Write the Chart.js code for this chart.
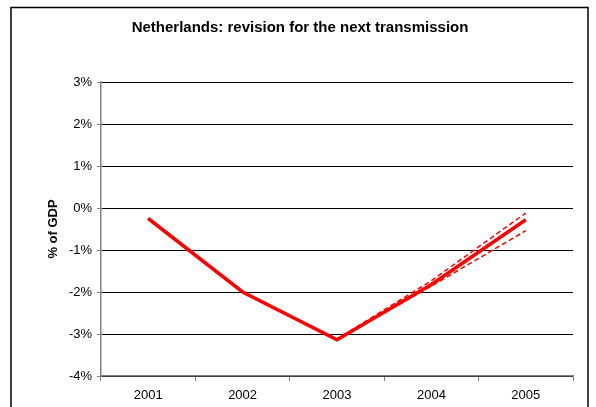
<!DOCTYPE html>
<html>
<head>
<meta charset="utf-8">
<script src="https://cdn.jsdelivr.net/npm/chart.js@4"></script>
<style>
html,body{margin:0;padding:0;background:#fff;}
#wrap{width:596px;height:407px;position:relative;}
</style>
</head>
<body>
<div id="wrap"><canvas id="c" width="596" height="407"></canvas></div>
<script>
const chartTitle = "Netherlands: revision for the next transmission";
const yAxisTitle = "% of GDP";
const categories = ["2001", "2002", "2003", "2004", "2005"];
const mainSeries = [-0.25, -2.0, -3.14, -1.82, -0.28];
const upperSeries = [-0.25, -2.0, -3.12, -1.73, -0.12];
const lowerSeries = [-0.25, -2.0, -3.14, -1.86, -0.54];
const yMin = -4, yMax = 3, yStep = 1;

const framePlugin = {
  id: 'frame',
  beforeDraw(chart) {
    const ctx = chart.ctx;
    ctx.save();
    ctx.fillStyle = '#fff';
    ctx.fillRect(0, 0, chart.width, chart.height);
    ctx.strokeStyle = '#000';
    ctx.lineWidth = 1.5;
    ctx.strokeRect(11, 7.5, 577, 450);
    ctx.restore();
  }
};

const fam = 'Liberation Sans, Arial, sans-serif';

new Chart(document.getElementById('c'), {
  type: 'line',
  data: {
    labels: categories,
    datasets: [
      { data: mainSeries, borderColor: '#ff0000', borderWidth: 3.5, pointRadius: 0, tension: 0, order: 2 },
      { data: upperSeries, borderColor: '#ff0000', borderWidth: 1.5, borderDash: [5, 3], pointRadius: 0, tension: 0, order: 1 },
      { data: lowerSeries, borderColor: '#ff0000', borderWidth: 1.5, borderDash: [5, 3], pointRadius: 0, tension: 0, order: 1 }
    ]
  },
  options: {
    responsive: false,
    animation: false,
    devicePixelRatio: 1,
    layout: { padding: { left: 27, right: 23, top: 0, bottom: 0 } },
    plugins: {
      legend: { display: false },
      tooltip: { enabled: false },
      title: {
        display: true,
        text: chartTitle,
        color: '#000',
        font: { family: fam, size: 15, weight: 'bold', lineHeight: 1.2 },
        padding: { top: 19, bottom: 45 }
      }
    },
    scales: {
      x: {
        type: 'category',
        offset: true,
        grid: { display: true, drawOnChartArea: false, offset: true, tickLength: 5, color: '#808080', lineWidth: 1 },
        border: { display: true, color: '#808080', width: 1.5 },
        ticks: { color: '#000', padding: 7, font: { family: fam, size: 13 }, maxRotation: 0 },
        afterFit(scale) { scale.height = 31; }
      },
      y: {
        min: yMin, max: yMax,
        ticks: { stepSize: yStep, color: '#000', padding: 5, font: { family: fam, size: 13 }, callback: v => v + '%' },
        grid: { color: '#000', lineWidth: 1, tickLength: 4, tickColor: '#808080' },
        border: { display: true, color: '#808080', width: 1.5 },
        title: { display: true, text: yAxisTitle, color: '#000', font: { family: fam, size: 13, weight: 'bold' }, padding: { top: 19, bottom: 0 } },
        afterFit(scale) { scale.width = 74; }
      }
    }
  },
  plugins: [framePlugin]
});
</script>
</body>
</html>
